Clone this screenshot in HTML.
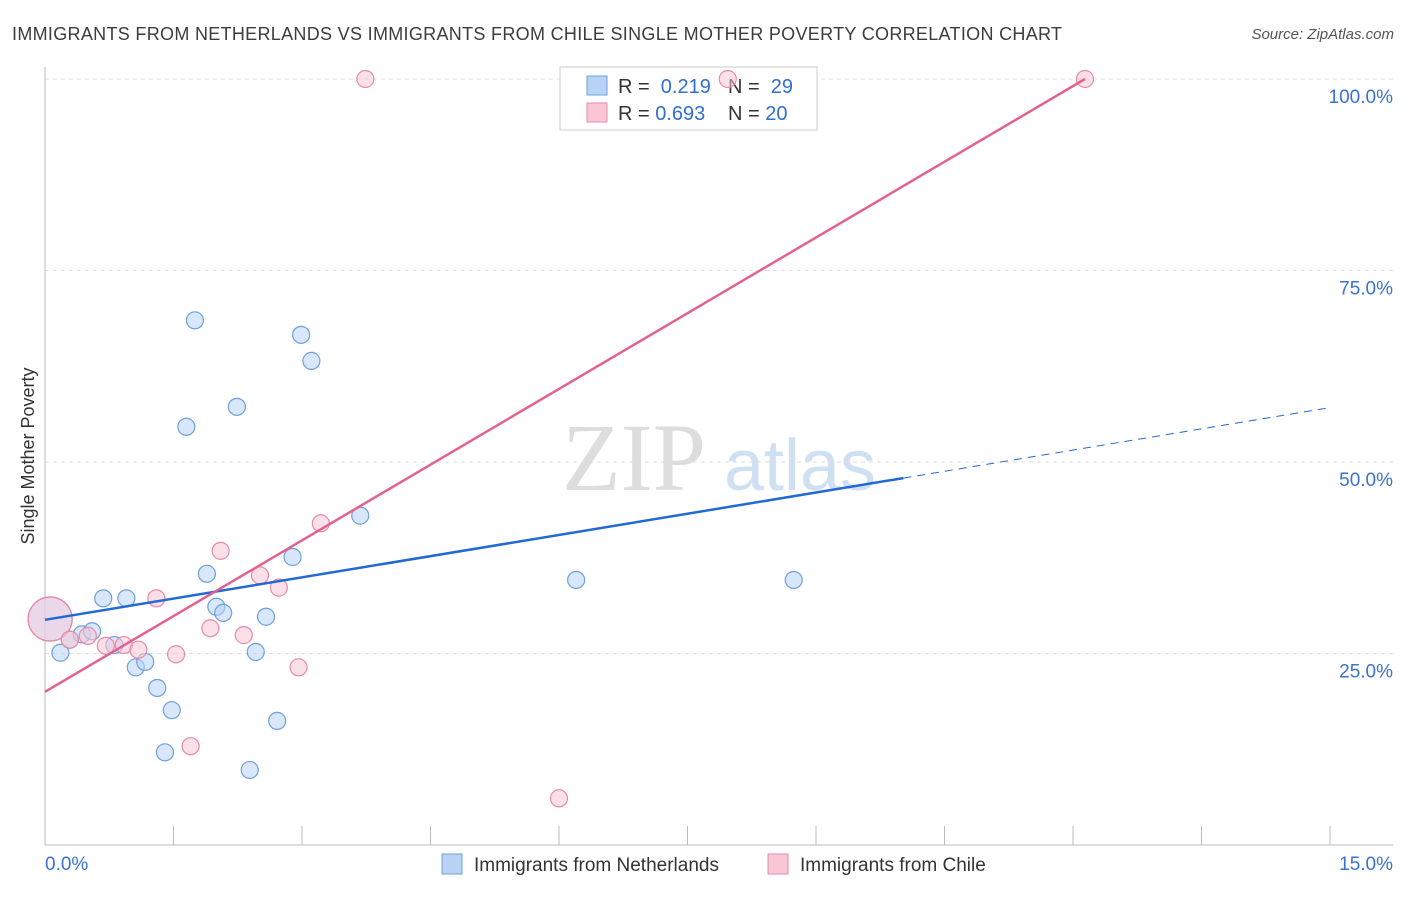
<!DOCTYPE html>
<html><head><meta charset="utf-8"><style>
body{margin:0;background:#fff;font-family:"Liberation Sans",sans-serif}
</style></head><body>
<svg id="c" width="1406" height="892" xmlns="http://www.w3.org/2000/svg" style="font-family:'Liberation Sans',sans-serif">
<text x="12" y="40" font-size="18" fill="#3c3c3c" textLength="1050">IMMIGRANTS FROM NETHERLANDS VS IMMIGRANTS FROM CHILE SINGLE MOTHER POVERTY CORRELATION CHART</text>
<text x="1394" y="39" font-size="15" fill="#555" font-style="italic" text-anchor="end">Source: ZipAtlas.com</text>
<text transform="translate(34,456) rotate(-90)" font-size="18" fill="#333" text-anchor="middle">Single Mother Poverty</text>
<g><text x="634" y="490" font-size="96" font-family="Liberation Serif" fill="#ddd" text-anchor="middle">ZIP</text><text x="800" y="490" font-size="72" fill="#cfe0f3" text-anchor="middle">atlas</text></g>
<g id="grid"></g><g id="axes"></g>
<g>
<rect x="560" y="67" width="257" height="63" fill="#fff" stroke="#ccc"/>
<rect x="587" y="76" width="20" height="19" fill="#b8d3f5" stroke="#6f9fdc"/>
<rect x="587" y="103" width="20" height="19" fill="#f9c6d5" stroke="#e88aa8"/>
<text x="618" y="93" font-size="20" fill="#333">R = <tspan fill="#2f6fd0">&#160;0.219</tspan><tspan x="728">N = </tspan><tspan fill="#2f6fd0">&#160;29</tspan></text>
<text x="618" y="120" font-size="20" fill="#333">R = <tspan fill="#2f6fd0">0.693</tspan><tspan x="728">N = </tspan><tspan fill="#2f6fd0">20</tspan></text>
</g>
<g id="marks"></g>
<g>
<rect x="442" y="854" width="20" height="20" fill="#b8d3f5" stroke="#6f9fdc"/>
<text x="474" y="871" font-size="19" fill="#333">Immigrants from Netherlands</text>
<rect x="768" y="854" width="20" height="20" fill="#f9c6d5" stroke="#e88aa8"/>
<text x="800" y="871" font-size="19" fill="#333">Immigrants from Chile</text>
</g>
</svg>
<script>
const xTicks=[0,1.5,3,4.5,6,7.5,9,10.5,12,13.5,15];
const yTicks=[25,50,75,100];
const blueX=[0.06,0.18,0.29,0.43,0.55,0.68,0.81,0.95,1.06,1.17,1.31,1.48,1.40,1.65,1.75,1.89,2.00,2.08,2.24,2.39,2.46,2.58,2.71,2.89,2.99,3.11,3.68,6.20,8.74];
const blueY=[29.5,25.1,26.8,27.5,27.9,32.2,26.1,32.2,23.2,23.9,20.5,17.6,12.1,54.6,68.5,35.4,31.1,30.3,57.2,9.8,25.2,29.8,16.2,37.6,66.6,63.2,43.0,34.6,34.6];
const pinkX=[0.06,0.29,0.71,0.92,1.09,1.30,1.53,1.70,1.93,2.05,2.32,2.51,2.73,2.96,3.22,3.74,6.00,7.97,12.14,0.50];
const pinkY=[29.5,26.8,26.0,26.1,25.5,32.2,24.9,12.9,28.3,38.4,27.4,35.2,33.6,23.2,42.0,100,6.1,100,100,27.3];
const blueLine=[[0,29.4],[10.02,47.9]];
const blueDash=[[10.02,47.9],[15,57.1]];
const pinkLine=[[0,20.0],[12.14,100]];
const X=v=>45+v/15*1285, Y=v=>845-v/100*766;
const NS="http://www.w3.org/2000/svg";
function mk(tag,a,p){const e=document.createElementNS(NS,tag);for(const k in a)e.setAttribute(k,a[k]);p.appendChild(e);return e;}
const grid=document.getElementById('grid'),axes=document.getElementById('axes'),marks=document.getElementById('marks');
yTicks.forEach(t=>{const l=mk('line',{x1:45,x2:1393,y1:Y(t),y2:Y(t),stroke:'#ddd','stroke-dasharray':'4,4'},grid);


const tx=mk('text',{x:1393,y:Y(t)+24,'font-size':19,fill:'#3b72d0','text-anchor':'end'},axes);tx.textContent=t.toFixed(1)+'%';

});
let a=mk('line',{x1:45,x2:45,y1:67,y2:845,stroke:'#bbb'},axes);


a=mk('line',{x1:45,x2:1393,y1:845,y2:845,stroke:'#bbb'},axes);


xTicks.forEach(t=>{const l=mk('line',{x1:X(t),x2:X(t),y1:826,y2:845,stroke:'#bbb'},axes);

});
[[0,'start','0.0%'],[15,'end','15.0%']].forEach(([v,an,s])=>{const tx=mk('text',{x:an=='start'?45:1393,y:870,'font-size':19,fill:'#3b72d0','text-anchor':an},axes);tx.textContent=s;

});
function pts(xs,ys,fill,stroke,name){xs.forEach((x,i)=>{const c=mk('circle',{cx:X(x),cy:Y(ys[i]),r:i==0?22:8.5,fill:fill,'fill-opacity':i==0?0.5:0.55,stroke:stroke,'stroke-width':1.2},marks);

});}
pts(blueX,blueY,'#b8d3f5','#6f9fdc','point-netherlands');
pts(pinkX,pinkY,'#f9c6d5','#e88aa8','point-chile');
function ln(p,col,dash,name){const l=mk('line',{x1:X(p[0][0]),y1:Y(p[0][1]),x2:X(p[1][0]),y2:Y(p[1][1]),stroke:col,'stroke-width':dash?1:2.5,'stroke-dasharray':dash?'8,6':'none'},marks);

}
ln(blueLine,'#2269d4',false,'trend-netherlands');
ln(blueDash,'#2269d4',true,'trend-netherlands-extension');
ln(pinkLine,'#e2628f',false,'trend-chile');
</script>
</body></html>
